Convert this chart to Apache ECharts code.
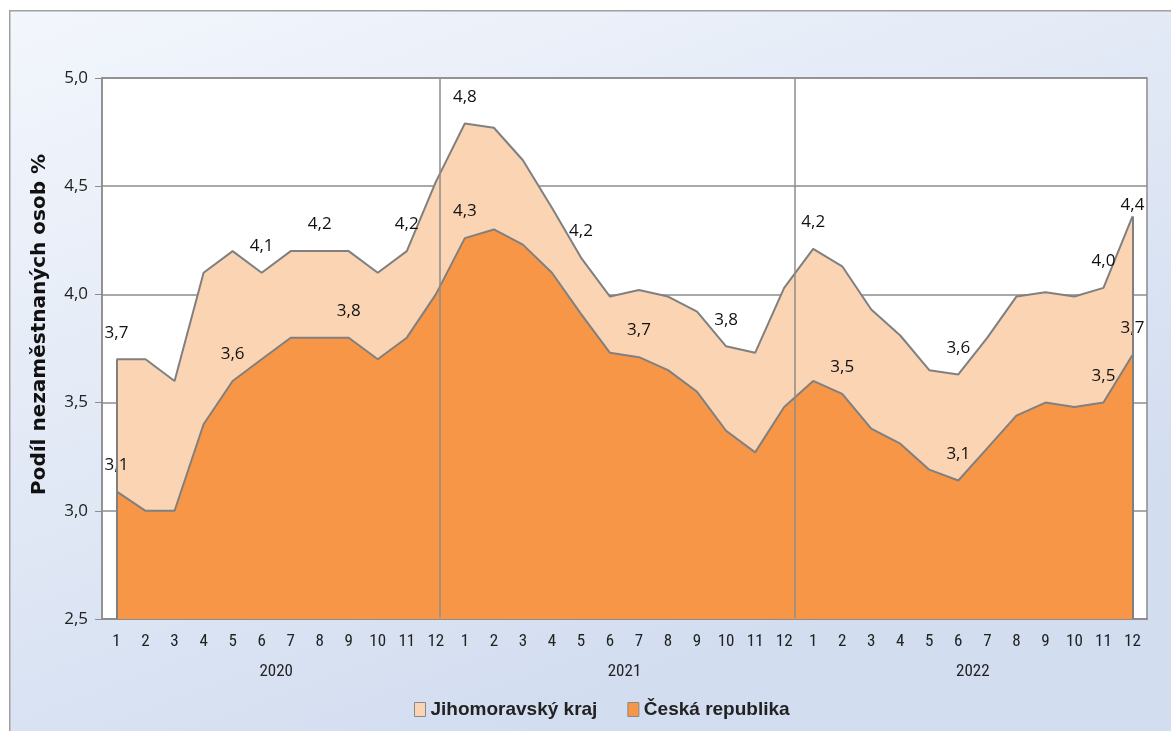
<!DOCTYPE html>
<html>
<head>
    <meta charset="utf-8">
    <script src="https://cdn.jsdelivr.net/npm/echarts@6/dist/echarts.min.js"></script>
    <style>
        html, body { margin: 0; padding: 0; background: #fff; }
    </style>
</head>
<body>
    <div id="main" style="width: 1171px;height:731px;"></div>
    <script type="text/javascript">
        // měsíce a roky na ose x
        var months = ['1', '2', '3', '4', '5', '6', '7', '8', '9', '10', '11', '12'];
        var years = ['2020', '2021', '2022'];

        // podíl nezaměstnaných osob (%)
        var jmk = [3.70, 3.70, 3.60, 4.10, 4.20, 4.10, 4.20, 4.20, 4.20, 4.10, 4.20, 4.52,
                   4.79, 4.77, 4.62, 4.40, 4.17, 3.99, 4.02, 3.99, 3.92, 3.76, 3.73, 4.03,
                   4.21, 4.13, 3.93, 3.81, 3.65, 3.63, 3.80, 3.99, 4.01, 3.99, 4.03, 4.36];
        var cr = [3.09, 3.00, 3.00, 3.40, 3.60, 3.70, 3.80, 3.80, 3.80, 3.70, 3.80, 4.00,
                  4.26, 4.30, 4.23, 4.10, 3.91, 3.73, 3.71, 3.65, 3.55, 3.37, 3.27, 3.48,
                  3.60, 3.54, 3.38, 3.31, 3.19, 3.14, 3.29, 3.44, 3.50, 3.48, 3.50, 3.72];

        // body, u kterých je zobrazen popisek
        var jmkLabels = [0, 5, 7, 10, 12, 16, 21, 24, 29, 34, 35];
        var crLabels = [0, 4, 8, 12, 18, 25, 29, 34, 35];

        // svislé čáry mezi roky (v jednotkách kategorií)
        var yearBreaks = [11.65, 23.86];

        var categories = [];
        years.forEach(function (y) {
            months.forEach(function (m) { categories.push(m); });
        });

        function fmt(v) {
            return v.toFixed(1).replace('.', ',');
        }

        var narrow = '"Liberation Sans Narrow", "Roboto Condensed", "Liberation Sans", sans-serif';
        var grey = '#8c8c8c';

        function buildData(values, shown) {
            return values.map(function (v, i) {
                return { value: v, label: { show: shown.indexOf(i) >= 0 } };
            });
        }

        function edgeLines(values) {
            var last = values.length - 1;
            return [
                [{ coord: [0, 2.5] }, { coord: [0, values[0]] }],
                [{ coord: [last, 2.5] }, { coord: [last, values[last]] }]
            ];
        }

        var jmkData = buildData(jmk, jmkLabels);
        jmkData[35].label.distance = 3;

        var myChart = echarts.init(document.getElementById('main'));

        var option = {
            backgroundColor: '#fff',
            animation: false,
            graphic: [{
                type: 'rect',
                z: -10,
                left: 9,
                top: 10,
                shape: { width: 1200, height: 800 },
                style: {
                    stroke: '#a0a0a0',
                    lineWidth: 1.5,
                    fill: {
                        type: 'linear', x: 0, y: 0, x2: 0.25, y2: 1,
                        colorStops: [
                            { offset: 0, color: '#f3f6fc' },
                            { offset: 1, color: '#d2ddf0' }
                        ]
                    }
                }
            }],
            grid: {
                left: 102,
                right: 24,
                top: 78,
                bottom: 112,
                show: true,
                backgroundColor: '#fff',
                borderColor: grey,
                borderWidth: 1.5
            },
            legend: {
                top: 695,
                left: 409,
                data: ['Jihomoravský kraj', 'Česká republika'],
                icon: 'rect',
                itemWidth: 11,
                itemHeight: 14,
                itemGap: 30,
                itemStyle: { borderColor: '#888', borderWidth: 1 },
                textStyle: {
                    fontFamily: '"Liberation Sans", sans-serif',
                    fontWeight: 'bold',
                    fontSize: 19,
                    color: '#222'
                }
            },
            xAxis: [{
                type: 'category',
                data: categories,
                boundaryGap: true,
                axisLine: { lineStyle: { color: grey, width: 2 } },
                axisTick: { show: false },
                axisLabel: {
                    interval: 0,
                    margin: 14,
                    fontFamily: narrow,
                    fontSize: 17,
                    color: '#222'
                }
            }, {
                type: 'category',
                data: years,
                position: 'bottom',
                offset: 36,
                axisLine: { show: false },
                axisTick: { show: false },
                axisLabel: {
                    fontFamily: narrow,
                    fontSize: 17,
                    color: '#222'
                }
            }, {
                type: 'value',
                min: 0,
                max: 36,
                show: false
            }],
            yAxis: [{
                type: 'value',
                min: 2.5,
                max: 5,
                interval: 0.5,
                name: 'Podíl nezaměstnaných osob %',
                nameLocation: 'middle',
                nameGap: 52,
                nameTextStyle: {
                    fontFamily: '"DejaVu Sans", sans-serif',
                    fontWeight: 'bold',
                    fontSize: 20,
                    color: '#111',
                    padding: [0, 0, 0, 48]
                },
                axisLine: { show: true, lineStyle: { color: grey, width: 1.5 } },
                axisTick: { show: true, length: 7, lineStyle: { color: grey } },
                splitLine: { lineStyle: { color: grey, width: 1.5 } },
                axisLabel: {
                    margin: 14,
                    fontFamily: '"Open Sans", sans-serif',
                    fontSize: 17,
                    color: '#222',
                    formatter: function (v) { return fmt(v); }
                }
            }, {
                // skrytá osa jen pro čáry mezi roky, mírně přesahující plochu grafu
                type: 'value',
                min: 2.44,
                max: 5.02,
                show: false
            }],
            series: [{
                name: 'Jihomoravský kraj',
                type: 'line',
                data: jmkData,
                symbol: 'circle',
                symbolSize: 0,
                itemStyle: { color: '#fbd4b3' },
                lineStyle: { color: '#808080', width: 2 },
                areaStyle: { color: '#fbd4b3', opacity: 1 },
                label: {
                    position: 'top',
                    distance: 18,
                    fontFamily: '"Open Sans", sans-serif',
                    fontSize: 17,
                    color: '#111',
                    formatter: function (p) { return fmt(p.value); }
                },
                markLine: {
                    silent: true,
                    symbol: 'none',
                    label: { show: false },
                    lineStyle: { color: '#808080', width: 2, type: 'solid' },
                    data: edgeLines(jmk)
                }
            }, {
                name: 'Česká republika',
                type: 'line',
                data: buildData(cr, crLabels),
                symbol: 'circle',
                symbolSize: 0,
                itemStyle: { color: '#f79646' },
                lineStyle: { color: '#808080', width: 2 },
                areaStyle: { color: '#f79646', opacity: 1 },
                label: {
                    position: 'top',
                    distance: 18,
                    fontFamily: '"Open Sans", sans-serif',
                    fontSize: 17,
                    color: '#111',
                    formatter: function (p) { return fmt(p.value); }
                },
                markLine: {
                    silent: true,
                    symbol: 'none',
                    label: { show: false },
                    lineStyle: { color: '#808080', width: 2, type: 'solid' },
                    data: edgeLines(cr)
                }
            }, {
                name: 'roky',
                type: 'line',
                xAxisIndex: 2,
                yAxisIndex: 1,
                data: [[0, 3], [36, 3]],
                symbol: 'none',
                lineStyle: { width: 0, opacity: 0 },
                clip: false,
                z: 5,
                markLine: {
                    silent: true,
                    symbol: 'none',
                    label: { show: false },
                    lineStyle: { color: grey, width: 1.5, type: 'solid' },
                    data: yearBreaks.map(function (b) {
                        return [{ coord: [b, 5.015] }, { coord: [b, 2.446] }];
                    })
                }
            }]
        };

        myChart.setOption(option);
    </script>
</body>
</html>
